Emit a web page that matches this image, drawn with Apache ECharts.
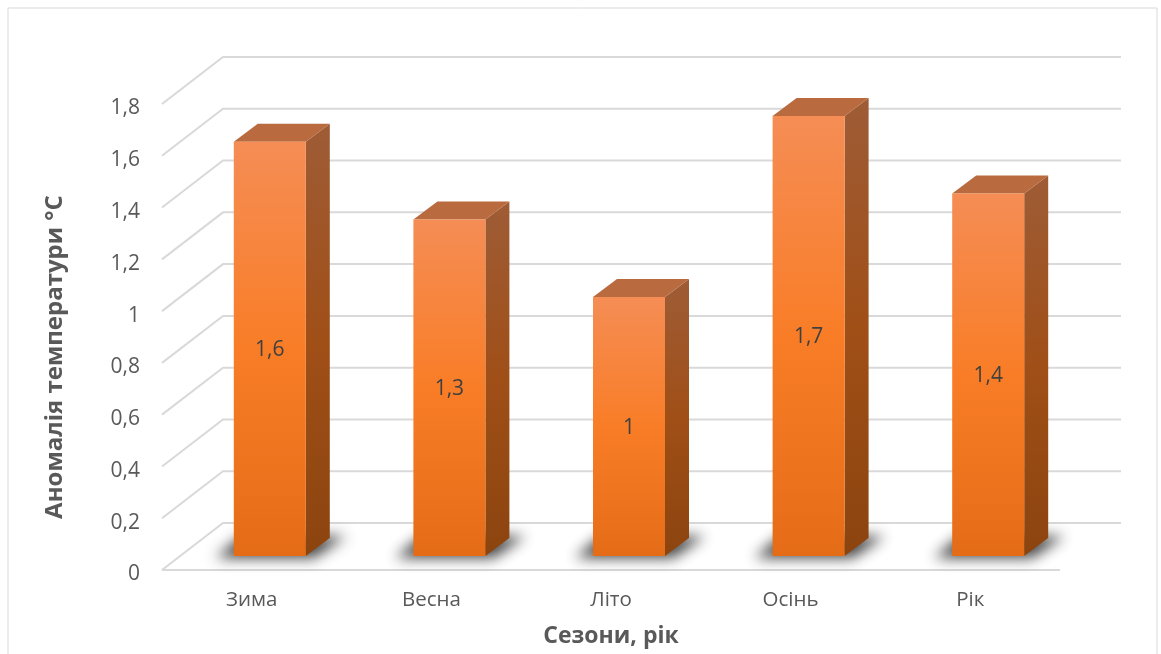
<!DOCTYPE html>
<html>
<head>
<meta charset="utf-8">
<style>html,body{margin:0;padding:0;background:#fff}#chart{width:1161px;height:654px}</style>
<script src="https://cdn.jsdelivr.net/npm/echarts@6/dist/echarts.min.js"></script>
</head>
<body>
<div id="chart"></div>
<script>
// Seasonal temperature anomaly, drawn as pseudo-3D columns.
const seasons = ['Зима', 'Весна', 'Літо', 'Осінь', 'Рік'];
const anomalies = [1.6, 1.3, 1, 1.7, 1.4];
const gridValues = [0, 0.2, 0.4, 0.6, 0.8, 1, 1.2, 1.4, 1.6, 1.8];

// Projection offsets of the pseudo-3D scene, in pixels.
const WALL_DX = 61, WALL_DY = -47;
const FLOOR_DX = 18, FLOOR_DY = -14;
const BAR_W = 72, DEPTH_DX = 24, DEPTH_DY = -18;
// The shadow caster sits off-canvas so that only its blurred shadow shows.
const CASTER_SHIFT = 3000;

const vGrad = (stops) => new echarts.graphic.LinearGradient(0, 0, 0, 1,
  stops.map(([offset, color]) => ({ offset, color })));

function renderWall(params, api) {
  const v = api.value(1);
  const y = api.coord([0, v])[1];
  const cs = params.coordSys;
  const x0 = cs.x, x1 = cs.x + cs.width;
  const style = { stroke: '#d9d9d9', lineWidth: 2, fill: null };
  const children = [{
    type: 'polyline',
    shape: { points: [[x0, y], [x0 + WALL_DX, y + WALL_DY], [x1 + WALL_DX, y + WALL_DY]] },
    style
  }];
  if (v === 0) {
    children.push({ type: 'line', shape: { x1: x0, y1: y, x2: x1, y2: y }, style });
  }
  return { type: 'group', children };
}

function renderColumn(params, api) {
  const top = api.coord([api.value(0), api.value(1)]);
  const base = api.coord([api.value(0), 0]);
  const l = top[0] + FLOOR_DX - BAR_W / 2, r = l + BAR_W;
  const yT = top[1] + FLOOR_DY, yB = base[1] + FLOOR_DY;
  const dx = DEPTH_DX, dy = DEPTH_DY;
  const s = CASTER_SHIFT;
  return {
    type: 'group',
    children: [
      { // soft cast shadow on the floor
        type: 'polygon',
        shape: { points: [[l - 18 - s, yB + 2], [l + 8 - s, yB - 20], [r + dx + 16 - s, yB - 20], [r + 8 - s, yB + 2]] },
        style: { fill: '#222', shadowBlur: 14, shadowOffsetX: s, shadowColor: 'rgba(35,35,35,0.85)' }
      },
      { // side face
        type: 'polygon',
        shape: { points: [[r, yT], [r + dx, yT + dy], [r + dx, yB + dy], [r, yB]] },
        style: { fill: vGrad([[0, '#9e5c36'], [0.5, '#a04f17'], [1, '#8c440f']]) }
      },
      { // top face
        type: 'polygon',
        shape: { points: [[l, yT], [l + dx, yT + dy], [r + dx, yT + dy], [r, yT]] },
        style: { fill: '#b96a3e' }
      },
      { // front face
        type: 'rect',
        shape: { x: l, y: yT, width: BAR_W, height: yB - yT },
        style: { fill: vGrad([[0, '#f58d55'], [0.5, '#f97d27'], [1, '#e56c17']]) }
      },
      {
        type: 'text',
        x: l + BAR_W / 2, y: (yT + yB) / 2 + 1,
        style: {
          text: String(api.value(1)).replace('.', ','),
          fill: '#404040', font: '21px "Open Sans"', align: 'center', verticalAlign: 'middle'
        }
      }
    ]
  };
}

const chart = echarts.init(document.getElementById('chart'), null, { renderer: 'canvas' });
chart.setOption({
  animation: false,
  backgroundColor: '#fff',
  graphic: [
    {
      type: 'rect', silent: true, z: -1,
      shape: { x: 8, y: 8, width: 1149, height: 700 },
      style: { fill: '#fff', stroke: '#d9d9d9', lineWidth: 1 }
    },
    {
      type: 'text', silent: true,
      x: 55, y: 357, rotation: Math.PI / 2,
      style: {
        text: 'Аномалія температури °C',
        fill: '#595959', font: 'bold 24px "Open Sans"', align: 'center', verticalAlign: 'middle'
      }
    }
  ],
  grid: { left: 162, top: 104, width: 898, height: 466 },
  xAxis: {
    type: 'category',
    data: seasons,
    axisLine: { show: false },
    axisTick: { show: false },
    axisLabel: { color: '#595959', fontFamily: 'Open Sans', fontSize: 20.5, margin: 20 },
    name: 'Сезони, рік',
    nameLocation: 'middle',
    nameGap: 55,
    nameTextStyle: { color: '#595959', fontFamily: 'Open Sans', fontSize: 23, fontWeight: 'bold' }
  },
  yAxis: {
    type: 'value',
    min: 0, max: 1.8, interval: 0.2,
    axisLine: { show: false },
    axisTick: { show: false },
    splitLine: { show: false },
    axisLabel: {
      color: '#595959', fontFamily: 'Open Sans', fontSize: 21, margin: 22,
      verticalAlign: 'top', lineHeight: 9,
      formatter: (v) => String(+v.toFixed(1)).replace('.', ',')
    }
  },
  series: [
    {
      type: 'custom',
      coordinateSystem: 'cartesian2d',
      renderItem: renderWall,
      silent: true, z: 1,
      encode: { x: 0, y: 1 },
      data: gridValues.map((v) => [0, v])
    },
    {
      type: 'custom',
      coordinateSystem: 'cartesian2d',
      renderItem: renderColumn,
      z: 2,
      encode: { x: 0, y: 1 },
      data: anomalies.map((v, i) => [i, v])
    }
  ]
});
</script>
</body>
</html>
